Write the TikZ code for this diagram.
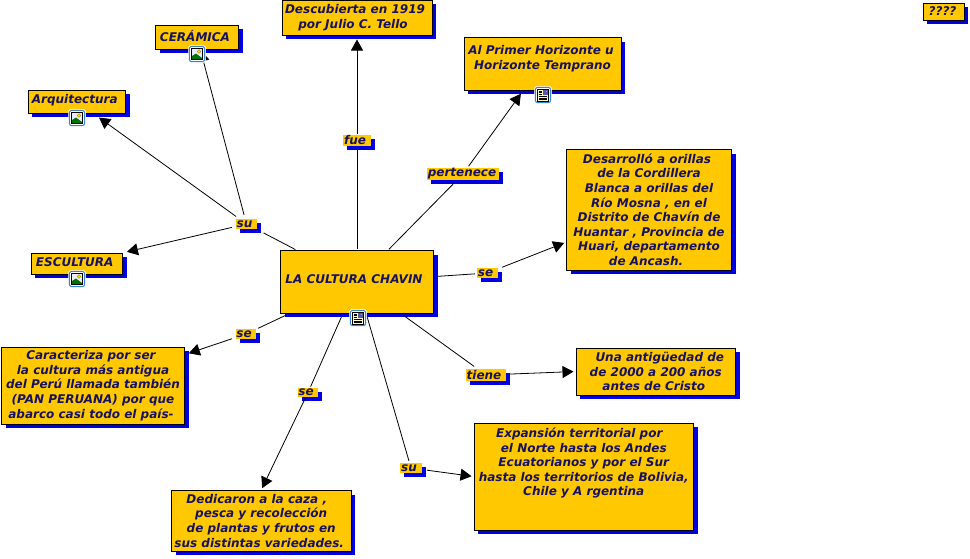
\documentclass[tikz,border=0pt]{standalone}
\usepackage{fontspec}
\setmainfont{DejaVu Sans}
\usetikzlibrary{arrows.meta,shadows}
\definecolor{gold}{HTML}{FFC800}
\definecolor{sblue}{HTML}{0000E0}
\definecolor{ink}{HTML}{17125E}
\newcommand\T[1]{\hspace*{#1pt}}
\newcommand\iconframe{\draw[draw=white,line width=.5pt,fill=white,rounded corners=2.5pt] (-8.5,-8.5) rectangle (8.5,8.5);
  \draw[draw=iconb,line width=1pt,fill=white,rounded corners=2.5pt] (-7.7,-7.7) rectangle (7.7,7.7);}
\definecolor{iconb}{HTML}{3C82D2}
\newcommand\imgicon[2]{\begin{scope}[shift={(#1,#2)}]
  \iconframe
  \draw[black,line width=.9pt,fill=blue!8] (-5.5,-5.5) rectangle (5.5,5.5);
  \fill[green!45!black] (-5,5) -- (-5,2) -- (-1,-.5) -- (5,4) -- (5,5) -- cycle;
  \fill[yellow!85!orange,draw=olive,line width=.3pt] (2,-2.5) circle (1.8);
  \end{scope}}
\newcommand\docicon[2]{\begin{scope}[shift={(#1,#2)}]
  \iconframe
  \draw[black,line width=.9pt,fill=yellow!25] (-5.5,-6) rectangle (5.5,6);
  \fill[blue!30!gray] (.2,-5) rectangle (4.6,-.5);
  \fill[red!50!white] (2.5,-4.5) rectangle (4.2,-3);
  \draw[black,line width=.7pt] (-4.3,-4) -- (-.8,-4) (-4.3,-2.2) -- (-.8,-2.2) (-4.3,-.5) -- (-.8,-.5) (-4.3,1.2) -- (4.3,1.2) (-4.3,3) -- (4.3,3) (-4.3,4.6) -- (4.3,4.6);
  \end{scope}}
\tikzset{
  x=1pt,y=-1pt,
  txt/.style={font=\fontsize{12}{14.6}\selectfont\bfseries\itshape,text=ink,align=center,inner sep=0pt},
  conceptbox/.style={txt,draw=black,line width=1pt,fill=gold,anchor=center,
    drop shadow={shadow xshift=4pt,shadow yshift=-4pt,fill=sblue,opacity=1}},
  linkbox/.style={txt,fill=gold,anchor=center,
    drop shadow={shadow xshift=4pt,shadow yshift=-4pt,fill=sblue,opacity=1}},
  conn/.style={draw=black,line width=.8pt},
  arr/.style={conn,-{Triangle[length=11pt,width=12pt]}},
}
\begin{document}
\begin{tikzpicture}
\useasboundingbox (0,0) rectangle (970,558);
% concept boxes
\node[conceptbox,minimum width=150pt,minimum height=35pt] (desc) at (357,17.5) {Descubierta en 1919\T{4}\\por Julio C. Tello\T{8}};
\node[conceptbox,minimum width=83pt,minimum height=24pt] (cer) at (197,37) {CERÁMICA\T{4}\\[-11.5pt]~};
\node[conceptbox,minimum width=97.5pt,minimum height=23pt] (arq) at (76.75,101.5) {Arquitectura\T{4}\\[-9pt]~};
\node[conceptbox,minimum width=91.5pt,minimum height=21pt] (esc) at (76.75,263.5) {ESCULTURA\T{4}\\[-11.5pt]~};
\node[conceptbox,minimum width=153pt,minimum height=62.5pt] (main) at (357,281.75) {LA CULTURA CHAVIN\T{6}\\[-10pt]~};
\node[conceptbox,minimum width=157pt,minimum height=52.5pt] (prim) at (542.5,63.75) {Al Primer Horizonte u\T{3}\\Horizonte Temprano\T{3}\\[-2pt]~};
\node[conceptbox,minimum width=165pt,minimum height=120.5pt] (des) at (649,209.75) {Desarrolló a orillas\T{4}\\de la Cordillera\T{9}\\Blanca a orillas del\T{4}\\Río Mosna , en el\T{9}\\Distrito de Chavín de\T{9}\\Huantar , Provincia de\T{9}\\Huari, departamento\T{4}\\de Ancash.\T{6}};
\node[conceptbox,minimum width=159.5pt,minimum height=47pt] (una) at (655.75,371.5) {\T{8}Una antigüedad de\\de 2000 a 200 años\T{4}\\antes de Cristo\T{4}};
\node[conceptbox,minimum width=219.5pt,minimum height=107pt] (exp) at (583.75,476.5) {Expansión territorial por\T{9}\\el Norte hasta los Andes\T{9}\\Ecuatorianos y por el Sur\T{5}\\hasta los territorios de Bolivia,\T{6}\\Chile y A rgentina\T{5}\\~\\~};
\node[conceptbox,minimum width=183pt,minimum height=77pt] (car) at (93,385.5) {Caracteriza por ser\T{4}\\la cultura más antigua\T{5}\\del Perú llamada también\T{6}\\(PAN PERUANA) por que\T{8}\\abarco casi todo el país-\T{4}};
\node[conceptbox,minimum width=179.5pt,minimum height=60.5pt] (ded) at (261.25,520.75) {Dedicaron a la caza ,\T{9}\\pesca y recolección\T{8}\\de plantas y frutos en\T{8}\\sus distintas variedades.\T{4}};
\node[conceptbox,minimum width=41pt,minimum height=17pt] (qq) at (943.5,11.5) {????\T{2}};
% link labels
\node[linkbox,minimum width=21pt,minimum height=10pt] (lsu) at (246.5,224) {su\T{4}};
\node[linkbox,minimum width=28pt,minimum height=11pt] (lfue) at (357,140.5) {fue\T{4}};
\node[linkbox,minimum width=72pt,minimum height=12pt] (lper) at (463,174) {pertenece\T{2}};
\node[linkbox,minimum width=21pt,minimum height=10pt] (lseb) at (487.5,273) {se\T{4}};
\node[linkbox,minimum width=20pt,minimum height=10pt] (lsea) at (246,334) {se\T{4}};
\node[linkbox,minimum width=20pt,minimum height=9.5pt] (lsec) at (308,392.5) {se\T{4}};
\node[linkbox,minimum width=40pt,minimum height=12pt] (ltie) at (486,375) {tiene\T{4}};
\node[linkbox,minimum width=22pt,minimum height=10pt] (lsud) at (411,468) {su\T{4}};
% connectors
\draw[conn,shorten <=1pt,shorten >=8pt] (main) -- (lsu);
\draw[arr,shorten <=4pt,shorten >=7pt] (lsu) -- (arq);
\draw[arr,shorten <=4pt,shorten >=1pt] (lsu) -- (cer);
\draw[arr,shorten <=4pt,shorten >=4pt] (lsu) -- (esc);
\draw[conn,shorten <=1pt,shorten >=4pt] (main) -- (lfue);
\draw[arr,shorten <=1pt,shorten >=4pt] (lfue) -- (desc);
\draw[conn,shorten <=1pt,shorten >=4pt] (main) -- (lper);
\draw[arr,shorten <=2pt,shorten >=4pt] (lper) -- (prim);
\draw[conn,shorten <=4pt,shorten >=2pt] (main) -- (lseb);
\draw[arr,shorten <=4pt,shorten >=2pt] (lseb) -- (des);
\draw[conn,shorten <=3pt,shorten >=4pt] (main) -- (ltie);
\draw[arr,shorten <=4pt,shorten >=2pt] (ltie) -- (una.west);
\draw[conn,shorten <=4pt,shorten >=2pt] (main) -- (lsud);
\draw[arr,shorten <=5pt,shorten >=2pt] (lsud) -- (exp.west);
\draw[conn,shorten <=4pt,shorten >=2pt] (main) -- (lsea);
\draw[arr,shorten <=4pt,shorten >=4pt] (lsea) -- (car);
\draw[conn,shorten <=4pt,shorten >=1pt] (main) -- (lsec);
\draw[arr,shorten <=1pt,shorten >=2pt] (lsec) -- (ded.north);
% icons
\imgicon{197}{54}
\imgicon{77}{118}
\imgicon{77}{279}
\docicon{358}{318}
\docicon{543}{95}
\end{tikzpicture}
\end{document}
